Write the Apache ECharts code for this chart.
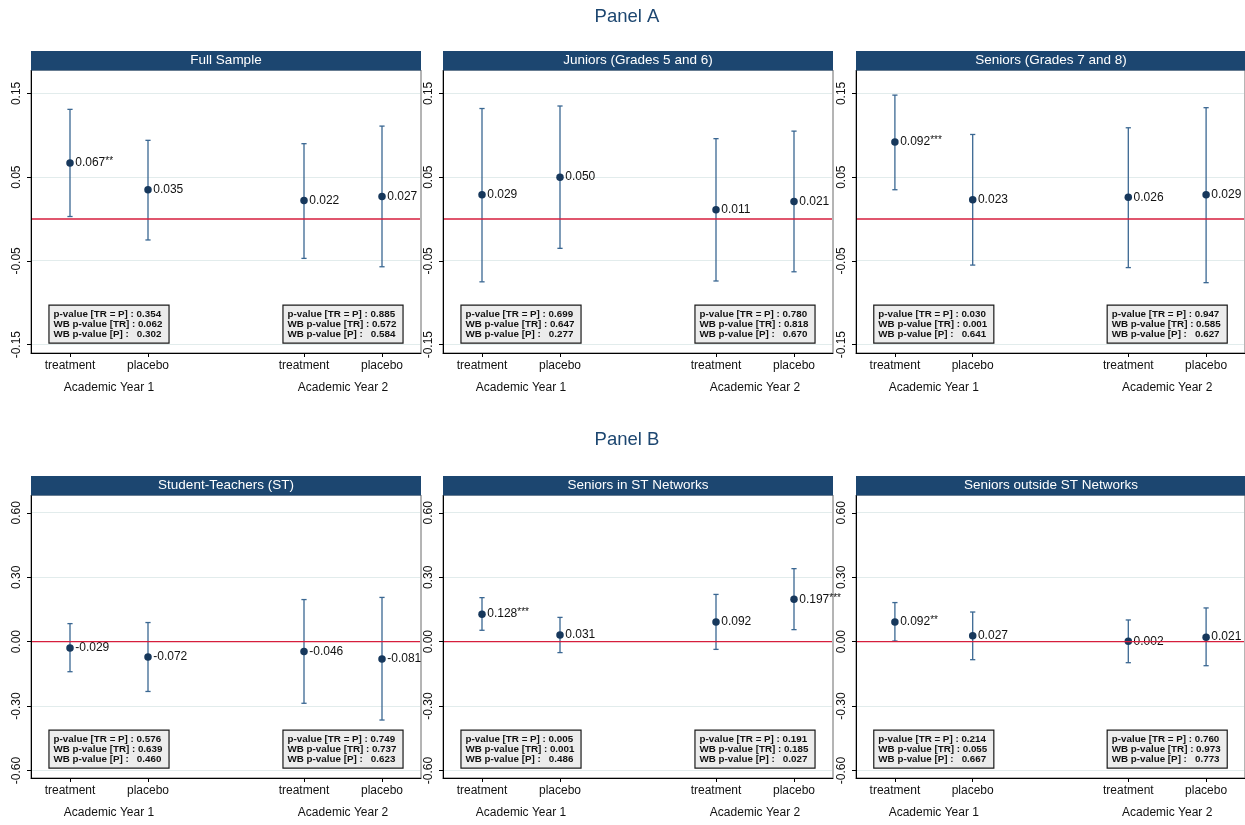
<!DOCTYPE html>
<html>
<head>
<meta charset="utf-8">
<script src="https://cdn.jsdelivr.net/npm/echarts@6/dist/echarts.min.js"></script>
<style>
  html, body { margin: 0; padding: 0; background: #ffffff; }
  #chart { width: 1245px; height: 825px; }
</style>
</head>
<body>
<div id="chart"></div>
<script>
// ---- labels ----
const armLabels = ['treatment', 'placebo'];
const yearLabels = ['Academic Year 1', 'Academic Year 2'];
const pLabels = ['p-value [TR = P] : ', 'WB p-value [TR] : ', 'WB p-value [P] :   '];
const sectionTitles = ['Panel A', 'Panel B'];

// ---- y-axis ticks and ranges per row ----
const panelATicks = [-0.15, -0.05, 0.05, 0.15];
const panelBTicks = [-0.60, -0.30, 0.00, 0.30, 0.60];
const panelARange = [-0.160, 0.178];
const panelBRange = [-0.635, 0.683];
const referenceLevel = 0;

// ---- estimates: order = Y1 treatment, Y1 placebo, Y2 treatment, Y2 placebo ----
// Full Sample
const fullTitle = 'Full Sample';
const fullEst = [0.067, 0.035, 0.022, 0.027];
const fullLo = [0.003, -0.025, -0.047, -0.057];
const fullHi = [0.131, 0.094, 0.090, 0.111];
const fullStars = ['**', '', '', ''];
const fullPY1 = ['0.354', '0.062', '0.302'];
const fullPY2 = ['0.885', '0.572', '0.584'];

// Juniors
const junTitle = 'Juniors (Grades 5 and 6)';
const junEst = [0.029, 0.050, 0.011, 0.021];
const junLo = [-0.075, -0.035, -0.074, -0.063];
const junHi = [0.132, 0.135, 0.096, 0.105];
const junStars = ['', '', '', ''];
const junPY1 = ['0.699', '0.647', '0.277'];
const junPY2 = ['0.780', '0.818', '0.670'];

// Seniors
const senTitle = 'Seniors (Grades 7 and 8)';
const senEst = [0.092, 0.023, 0.026, 0.029];
const senLo = [0.035, -0.055, -0.058, -0.076];
const senHi = [0.148, 0.101, 0.109, 0.133];
const senStars = ['***', '', '', ''];
const senPY1 = ['0.030', '0.001', '0.641'];
const senPY2 = ['0.947', '0.585', '0.627'];

// Student-Teachers
const stTitle = 'Student-Teachers (ST)';
const stEst = [-0.029, -0.072, -0.046, -0.081];
const stLo = [-0.140, -0.232, -0.287, -0.365];
const stHi = [0.084, 0.089, 0.196, 0.206];
const stStars = ['', '', '', ''];
const stPY1 = ['0.576', '0.639', '0.460'];
const stPY2 = ['0.749', '0.737', '0.623'];

// Seniors in ST networks
const inTitle = 'Seniors in ST Networks';
const inEst = [0.128, 0.031, 0.092, 0.197];
const inLo = [0.053, -0.051, -0.036, 0.056];
const inHi = [0.205, 0.113, 0.220, 0.340];
const inStars = ['***', '', '', '***'];
const inPY1 = ['0.005', '0.001', '0.486'];
const inPY2 = ['0.191', '0.185', '0.027'];

// Seniors outside ST networks
const outTitle = 'Seniors outside ST Networks';
const outEst = [0.092, 0.027, 0.002, 0.021];
const outLo = [0.003, -0.084, -0.098, -0.112];
const outHi = [0.182, 0.138, 0.101, 0.157];
const outStars = ['**', '', '', ''];
const outPY1 = ['0.214', '0.055', '0.667'];
const outPY2 = ['0.760', '0.973', '0.773'];

// ---- style / layout ----
const FONT = '"Liberation Sans", Arial, Helvetica, sans-serif';
const NAVY = '#1c4670';
const BAR = '#3a6792';
const DOT = '#17385c';
const ZERO = 'rgb(214, 30, 60)';
const GRIDLINE = '#e2ecec';
const TEXT = '#111111';

const colLeft = [31, 443, 856];
const plotW = 390;
const plotTop = [70, 495];
const plotH = 283;
const headH = 19;
const titleY = [17, 440];
const boxGap = 10.5;
const boxFont = 'bold 9.8px ' + FONT;
const boxLineH = 9.9;
const boxPad = [4, 6, 3, 4];

const rows = [
  { ticks: panelATicks, range: panelARange },
  { ticks: panelBTicks, range: panelBRange }
];

const panels = [
  { title: fullTitle, est: fullEst, lo: fullLo, hi: fullHi, stars: fullStars, p: [fullPY1, fullPY2], row: 0, col: 0 },
  { title: junTitle, est: junEst, lo: junLo, hi: junHi, stars: junStars, p: [junPY1, junPY2], row: 0, col: 1 },
  { title: senTitle, est: senEst, lo: senLo, hi: senHi, stars: senStars, p: [senPY1, senPY2], row: 0, col: 2 },
  { title: stTitle, est: stEst, lo: stLo, hi: stHi, stars: stStars, p: [stPY1, stPY2], row: 1, col: 0 },
  { title: inTitle, est: inEst, lo: inLo, hi: inHi, stars: inStars, p: [inPY1, inPY2], row: 1, col: 1 },
  { title: outTitle, est: outEst, lo: outLo, hi: outHi, stars: outStars, p: [outPY1, outPY2], row: 1, col: 2 }
];

// x slot of an estimate: each year takes two slots, with one empty slot between years
const xOf = (i) => Math.floor(i / 2) * 3 + (i % 2) + 0.5;
const armSlots = [0, 1, 2, 3].map(xOf);
const yearCenters = [0, 1].map((y) => y * 3 + 1);

const measureCtx = document.createElement('canvas').getContext('2d');
measureCtx.font = boxFont;

// faint horizontal rule spanning the plot at a given y value
function hRuleRenderer(color, width) {
  return function (params, api) {
    const cs = params.coordSys;
    const raw = api.coord([0, api.value(0)])[1];
    const y = Math.round(raw - 0.5) + 0.5;
    return {
      type: 'line',
      shape: { x1: cs.x + 1, y1: y, x2: cs.x + cs.width - 1, y2: y },
      style: { stroke: color, lineWidth: width }
    };
  };
}

function boxRenderer(pSets) {
  return function (params, api) {
    const year = api.value(1);
    const cx = api.coord([api.value(0), 0])[0];
    const cs = params.coordSys;
    const lines = pLabels.map((l, k) => l + pSets[year][k]);
    const textW = Math.max.apply(null, lines.map((l) => measureCtx.measureText(l).width));
    const outerW = textW + boxPad[1] + boxPad[3];
    return {
      type: 'text',
      style: {
        text: lines.join('\n'),
        x: cx - outerW / 2,
        y: cs.y + cs.height - boxGap,
        align: 'left',
        verticalAlign: 'bottom',
        font: boxFont,
        lineHeight: boxLineH,
        fill: TEXT,
        backgroundColor: '#ececec',
        borderColor: '#1a1a1a',
        borderWidth: 1.2,
        padding: boxPad
      }
    };
  };
}

function barRenderer(params, api) {
  const x = api.value(0);
  const top = api.coord([x, api.value(2)]);
  const bot = api.coord([x, api.value(1)]);
  const st = { stroke: BAR, lineWidth: 1.3 };
  const cap = 2.6;
  return {
    type: 'group',
    children: [
      { type: 'line', shape: { x1: top[0], y1: top[1], x2: bot[0], y2: bot[1] }, style: st },
      { type: 'line', shape: { x1: top[0] - cap, y1: top[1], x2: top[0] + cap, y2: top[1] }, style: st },
      { type: 'line', shape: { x1: bot[0] - cap, y1: bot[1], x2: bot[0] + cap, y2: bot[1] }, style: st }
    ]
  };
}

const grids = [], xAxes = [], yAxes = [], series = [], graphics = [];

panels.forEach((pn, gi) => {
  const row = rows[pn.row];
  const left = colLeft[pn.col];
  const top = plotTop[pn.row];
  grids.push({
    left: left, top: top, width: plotW, height: plotH,
    show: true, backgroundColor: '#ffffff', borderColor: '#6a6a6a', borderWidth: 1
  });
  // arm axis
  xAxes.push({
    gridIndex: gi, type: 'value', min: 0, max: 5, position: 'bottom',
    axisLine: { show: true, onZero: false, lineStyle: { color: '#000000', width: 1 } },
    axisTick: { show: true, customValues: armSlots, length: 4, lineStyle: { color: '#000000' } },
    axisLabel: {
      show: true, customValues: armSlots, margin: 7,
      formatter: (v) => armLabels[armSlots.indexOf(v) % 2],
      fontSize: 12, color: TEXT, fontFamily: FONT
    },
    splitLine: { show: false }
  });
  // year axis
  xAxes.push({
    gridIndex: gi, type: 'value', min: 0, max: 5, position: 'bottom',
    axisLine: { show: false, onZero: false }, axisTick: { show: false },
    axisLabel: {
      show: true, customValues: yearCenters, margin: 29,
      formatter: (v) => yearLabels[yearCenters.indexOf(v)],
      fontSize: 12, color: TEXT, fontFamily: FONT
    },
    splitLine: { show: false }
  });
  yAxes.push({
    gridIndex: gi, type: 'value', min: row.range[0], max: row.range[1],
    axisLine: { show: true, onZero: false, lineStyle: { color: '#000000', width: 1 } },
    axisTick: { show: true, customValues: row.ticks, length: 4, lineStyle: { color: '#000000' } },
    axisLabel: {
      show: true, customValues: row.ticks, rotate: 90, margin: 8,
      formatter: (v) => v.toFixed(2),
      fontSize: 12, color: TEXT, fontFamily: FONT
    },
    splitLine: { show: false }
  });
  const xi = gi * 2;
  // faint horizontal grid lines at the ticks
  series.push({
    type: 'custom', xAxisIndex: xi, yAxisIndex: gi, z: 1, silent: true,
    renderItem: hRuleRenderer(GRIDLINE, 1),
    encode: { y: 0 },
    data: row.ticks.filter((v) => v !== 0).map((v) => [v])
  });
  // confidence intervals
  series.push({
    type: 'custom', xAxisIndex: xi, yAxisIndex: gi, z: 3, silent: true,
    renderItem: barRenderer,
    encode: { x: 0, y: [1, 2] },
    data: pn.est.map((e, i) => [xOf(i), pn.lo[i], pn.hi[i]])
  });
  // point estimates with value labels
  series.push({
    type: 'scatter', xAxisIndex: xi, yAxisIndex: gi, z: 11, silent: true,
    symbol: 'circle', symbolSize: 7.5,
    itemStyle: { color: DOT, opacity: 1 },
    data: pn.est.map((e, i) => [xOf(i), e]),
    label: {
      show: true, position: 'right', distance: 1.5,
      formatter: (p) => {
        const i = p.dataIndex;
        let s = '{v|' + pn.est[i].toFixed(3) + '}';
        if (pn.stars[i]) s += '{s|' + pn.stars[i] + '}';
        return s;
      },
      rich: {
        v: { fontSize: 12, color: TEXT, fontFamily: FONT },
        s: { fontSize: 10, color: TEXT, fontFamily: FONT, verticalAlign: 'top', padding: [0, 0, 3, 0] }
      }
    }
  });
  // p-value boxes
  series.push({
    type: 'custom', xAxisIndex: xi, yAxisIndex: gi, z: 12, silent: true,
    renderItem: boxRenderer(pn.p),
    encode: { x: 0 },
    data: yearCenters.map((c, y) => [c, y])
  });
  // panel header strip
  graphics.push({
    type: 'rect', z: 100,
    shape: { x: left, y: top - headH, width: plotW, height: headH + 0.5 },
    style: { fill: NAVY }
  });
  graphics.push({
    type: 'text', z: 101,
    style: {
      text: pn.title, x: left + plotW / 2, y: top - headH / 2,
      align: 'center', verticalAlign: 'middle',
      font: '13.5px ' + FONT, fill: '#ffffff'
    }
  });
});

sectionTitles.forEach((t, r) => {
  graphics.push({
    type: 'text', z: 101,
    style: {
      text: t, x: 627, y: titleY[r], align: 'center', verticalAlign: 'middle',
      font: '18.5px ' + FONT, fill: NAVY
    }
  });
});

const chart = echarts.init(document.getElementById('chart'), null, { renderer: 'canvas' });
chart.setOption({
  animation: false,
  backgroundColor: '#ffffff',
  textStyle: { fontFamily: FONT },
  grid: grids,
  xAxis: xAxes,
  yAxis: yAxes,
  series: series,
  graphic: { elements: graphics }
});

// zero reference line of each panel, placed through the panel's own axes
const zeroLines = panels.map((pn, gi) => {
  const a = chart.convertToPixel({ xAxisIndex: gi * 2, yAxisIndex: gi }, [0, referenceLevel]);
  const b = chart.convertToPixel({ xAxisIndex: gi * 2, yAxisIndex: gi }, [5, referenceLevel]);
  return {
    type: 'line', z: 90, silent: true,
    shape: { x1: a[0] + 1, y1: a[1], x2: b[0] - 1, y2: b[1] },
    style: { stroke: ZERO, lineWidth: 1.4 }
  };
});
chart.setOption({ graphic: { elements: graphics.concat(zeroLines) } });
</script>
</body>
</html>
